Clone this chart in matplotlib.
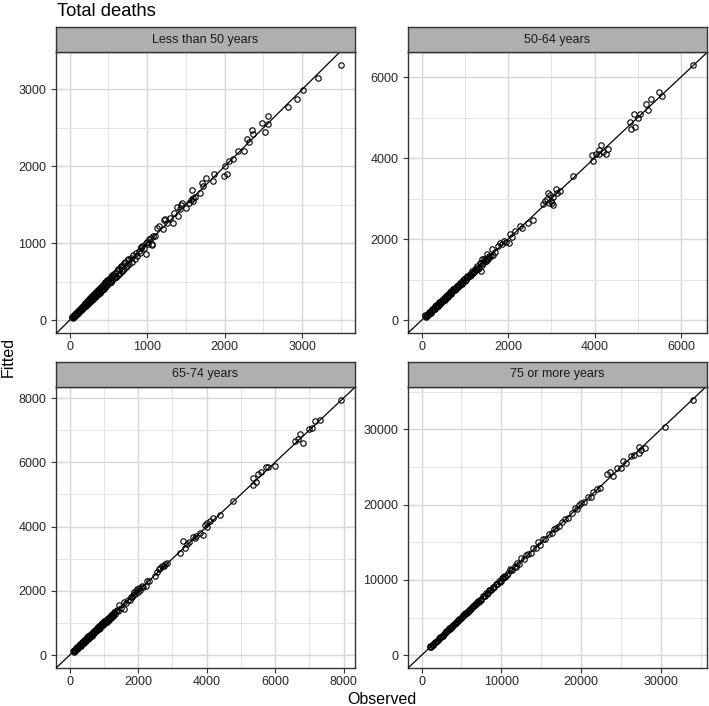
import matplotlib
matplotlib.use("Agg")
import matplotlib.pyplot as plt
from matplotlib.ticker import MultipleLocator

plt.rcParams['font.family'] = ['Liberation Sans', 'DejaVu Sans']

# =============================================================================
# DATA : observed vs fitted deaths, by age group
# =============================================================================

obs_lt50 = [30, 38, 45, 52, 60, 66, 72, 80, 86, 92, 100, 105, 112, 118, 124, 130, 136, 142, 148, 155,
            160, 166, 172, 178, 185, 190, 196, 202, 208, 214, 220, 226, 232, 238, 245, 250, 256, 262, 268, 275,
            280, 286, 292, 298, 305, 310, 318, 324, 330, 336, 342, 348, 355, 362, 368, 375, 382, 390, 398, 405,
            412, 420, 428, 436, 445, 452, 460, 470, 478, 488, 498, 508, 518, 528, 540, 550, 560, 572, 585, 598,
            610, 622, 635, 648, 660, 675, 690, 705, 720, 738, 755, 770, 790, 805, 820, 840, 858, 870, 890, 905,
            917, 925, 940, 960, 980, 989, 1000, 1015, 1030, 1050, 1057, 1066, 1080, 1104,
            1129, 1158, 1204, 1222, 1235, 1250, 1298, 1338, 1342, 1380, 1394, 1420, 1440, 1455, 1502, 1540,
            1565, 1584, 1591, 1596, 1620, 1680, 1711, 1720, 1762, 1846, 1859, 1995, 2000, 2029, 2059, 2113,
            2177, 2253, 2292, 2317, 2348, 2368, 2488, 2517, 2559, 2559, 2818, 2932, 3013, 3200, 3506]
fit_lt50 = [45, 30, 60, 48, 70, 55, 80, 72, 95, 85, 110, 92, 120, 105, 135, 118, 150, 130, 160, 140,
            172, 150, 188, 165, 198, 175, 210, 190, 225, 200, 240, 212, 250, 225, 262, 235, 278, 248, 290, 258,
            300, 270, 315, 280, 330, 292, 345, 300, 355, 318, 372, 330, 385, 340, 398, 355, 410, 368, 425, 380,
            440, 398, 458, 412, 470, 430, 492, 448, 508, 462, 525, 478, 545, 500, 568, 520, 590, 545, 610, 565,
            640, 590, 665, 615, 690, 640, 720, 670, 755, 700, 780, 735, 810, 760, 850, 800, 880, 830, 905, 870,
            958, 940, 960, 935, 1000, 863, 1020, 985, 1060, 1075, 983, 991, 1100, 1098,
            1205, 1230, 1186, 1306, 1312, 1260, 1333, 1270, 1397, 1474, 1355, 1440, 1500, 1526, 1462, 1530,
            1564, 1692, 1590, 1547, 1600, 1650, 1778, 1740, 1842, 1808, 1897, 1872, 2000, 1897, 2069, 2099,
            2196, 2205, 2350, 2311, 2474, 2419, 2560, 2440, 2654, 2547, 2769, 2876, 2996, 3154, 3320]
# extra points of the dense low band
obs_lt50_low = [35, 48, 58, 70, 83, 95, 108, 122, 134, 146, 158, 170, 183, 195, 207, 220, 233, 246, 258, 270,
                283, 296, 309, 322, 335, 348, 361, 374, 387, 400, 414, 428, 442, 456, 470, 485, 500, 516, 532, 548,
                565, 582, 600, 620, 640, 660, 680, 700, 725, 750]
fit_lt50_low = [40, 58, 52, 82, 76, 108, 98, 138, 122, 162, 146, 190, 168, 218, 190, 245, 210, 270, 238, 300,
                258, 325, 285, 352, 312, 378, 340, 405, 360, 432, 390, 462, 410, 490, 440, 520, 465, 550, 495, 585,
                530, 620, 565, 660, 600, 700, 640, 738, 690, 790]

obs_50_64 = [80, 100, 120, 140, 160, 180, 200, 220, 240, 260, 280, 300, 320, 340, 360, 380, 400, 420, 440, 460,
             480, 500, 520, 545, 570, 590, 610, 630, 650, 670, 690, 710, 730, 750, 770, 790, 810, 830, 850, 870,
             890, 910, 930, 960, 990, 1020, 1050, 1080, 1110, 1140, 1174, 1200, 1230, 1260, 1288, 1320, 1363,
             1380, 1402, 1430, 1460, 1490, 1516, 1540, 1570, 1600, 1630, 1650, 1700, 1758, 1820, 1850, 1900,
             1950, 2032, 2048, 2080, 2162, 2277, 2320, 2466, 2580, 2811, 2847, 2922, 2900, 2950, 2980, 3000,
             3050, 3050, 3020, 3114, 3130, 3200, 3509, 3950, 3958, 4027, 4103, 4111, 4141, 4200, 4256, 4315,
             4826, 4845, 4918, 4940, 5000, 5046, 5198, 5244, 5297, 5495, 5564, 6288]
fit_50_64 = [92, 85, 130, 120, 175, 160, 215, 200, 255, 245, 300, 280, 340, 325, 385, 360, 425, 400, 465, 440,
             500, 485, 545, 525, 590, 570, 640, 615, 680, 650, 720, 690, 770, 735, 800, 780, 845, 810, 880, 850,
             920, 890, 960, 940, 1010, 1000, 1070, 1060, 1130, 1120, 1226, 1170, 1260, 1240, 1348, 1300, 1226,
             1420, 1510, 1400, 1480, 1460, 1632, 1520, 1560, 1580, 1754, 1620, 1680, 1835, 1917, 1880, 1950,
             1920, 1917, 2119, 2050, 2200, 2322, 2280, 2387, 2468, 2874, 2931, 3150, 3000, 2880, 3100, 2950,
             3052, 2850, 2900, 3233, 3150, 3180, 3557, 4068, 3922, 4110, 4190, 4100, 4312, 4150, 4110, 4231,
             4896, 4718, 5083, 4758, 5001, 5099, 5342, 5181, 5449, 5634, 5530, 6302]
obs_50_64_low = [90, 130, 170, 210, 250, 290, 330, 370, 410, 450, 490, 530, 570, 610, 650, 690, 730, 770, 810,
                 850, 890, 930, 970, 1010, 1060, 1110, 1160, 1210, 1260, 1310, 1350, 1400, 1450, 1500, 1550]
fit_50_64_low = [120, 110, 200, 185, 280, 265, 365, 345, 450, 420, 525, 500, 610, 580, 690, 660, 770, 740, 850,
                 820, 930, 900, 1010, 980, 1100, 1080, 1200, 1180, 1300, 1270, 1400, 1370, 1500, 1470, 1590]

obs_65_74 = [110, 130, 150, 170, 190, 210, 230, 250, 270, 290, 310, 330, 350, 370, 390, 410, 430, 450, 470, 490,
             510, 530, 550, 570, 590, 610, 630, 650, 670, 690, 710, 730, 750, 770, 790, 810, 830, 850, 870, 890,
             910, 930, 950, 975, 1000, 1025, 1050, 1080, 1110, 1140, 1170, 1200, 1230, 1260, 1290, 1320, 1360,
             1400, 1452, 1500, 1576, 1600, 1650, 1700, 1750, 1787, 1820, 1850, 1885, 1920, 1950, 1980, 2000,
             2030, 2060, 2100, 2150, 2219, 2250, 2317, 2507, 2550, 2605, 2650, 2700, 2750, 2800, 2845, 3228,
             3326, 3374, 3420, 3500, 3614, 3650, 3700, 3805, 3901, 3948, 4000, 4020, 4094, 4190, 4380, 4766,
             5343, 5440, 5343, 5487, 5600, 5726, 5800, 5986, 6591, 6669, 6717, 6801, 7000, 7072, 7167, 7311, 7937]
fit_65_74 = [126, 110, 175, 150, 220, 190, 260, 235, 300, 275, 340, 310, 385, 350, 420, 395, 465, 430, 505, 475,
             545, 510, 585, 550, 625, 590, 665, 630, 710, 670, 750, 710, 790, 750, 835, 790, 875, 830, 915, 870,
             955, 910, 995, 950, 1040, 990, 1090, 1040, 1140, 1100, 1200, 1160, 1260, 1220, 1320, 1280, 1390,
             1370, 1553, 1480, 1451, 1640, 1620, 1720, 1730, 1810, 1800, 1880, 1963, 1900, 2000, 2064, 1980,
             2100, 2040, 2150, 2120, 2166, 2300, 2319, 2472, 2580, 2678, 2700, 2779, 2760, 2830, 2883, 3190,
             3546, 3343, 3450, 3520, 3669, 3640, 3720, 3804, 3752, 4058, 4100, 4000, 4160, 4264, 4365, 4794,
             5509, 5387, 5285, 5644, 5700, 5847, 5850, 5899, 6666, 6718, 6871, 6614, 7025, 7074, 7279, 7331, 7945]
obs_65_74_low = [120, 160, 200, 240, 280, 320, 360, 400, 440, 480, 520, 560, 600, 640, 680, 720, 760, 800, 840,
                 880, 920, 960, 1010, 1060, 1110, 1160, 1210, 1260, 1310, 1380]
fit_65_74_low = [150, 140, 235, 215, 320, 300, 400, 380, 480, 455, 560, 535, 640, 610, 720, 695, 800, 775, 880,
                 850, 960, 935, 1050, 1030, 1150, 1130, 1250, 1230, 1350, 1420]

obs_75p = [1040, 1150, 1300, 1450, 1600, 1750, 1900, 2050, 2200, 2350, 2500, 2650, 2800, 2950, 3100, 3250,
           3400, 3550, 3700, 3850, 4000, 4150, 4300, 4450, 4600, 4750, 4900, 5050, 5200, 5350, 5500, 5650,
           5800, 5950, 6100, 6250, 6400, 6550, 6700, 6850, 7000, 7150, 7300, 7500, 7700, 7900, 8100, 8300,
           8500, 8700, 8900, 9100, 9300, 9500, 9700, 9900, 10100, 10300, 10500, 10800, 11110, 11400, 11700,
           11920, 12200, 12530, 12800, 13140, 13400, 13700, 13950, 14300, 14560, 14800, 15170, 15500, 15980,
           16300, 16590, 16900, 17300, 17600, 18000, 18400, 18820, 19220, 19500, 19800, 20030, 20400, 20850,
           21200, 21450, 22060, 22400, 23280, 23680, 24000, 24500, 25000, 25300, 25700, 26320, 26700, 27240,
           27300, 27500, 28060, 30490, 34100]
fit_75p = [1090, 1120, 1340, 1420, 1650, 1720, 1950, 2020, 2250, 2320, 2560, 2620, 2860, 2920, 3160, 3220,
           3460, 3520, 3760, 3820, 4070, 4120, 4370, 4420, 4670, 4720, 4980, 5020, 5280, 5320, 5580, 5620,
           5880, 5920, 6190, 6220, 6490, 6520, 6790, 6820, 7100, 7120, 7400, 7460, 7820, 7850, 8220, 8250,
           8620, 8650, 9050, 9050, 9450, 9450, 9850, 9850, 10250, 10560, 10450, 10950, 11420, 11380, 11900,
           12270, 12150, 12920, 12750, 13350, 13450, 13650, 14200, 14250, 15060, 14700, 15490, 15450, 16130,
           16200, 16780, 16850, 17200, 17640, 18070, 18300, 18930, 19570, 19400, 19900, 20210, 20300, 21080,
           21000, 21720, 22150, 22200, 24080, 24290, 23800, 24940, 24900, 25790, 25600, 26430, 26600, 27720,
           26870, 27300, 27510, 30290, 33950]
obs_75p_low = [1100, 1400, 1700, 2000, 2300, 2600, 2900, 3200, 3500, 3800, 4100, 4400, 4700, 5000, 5300, 5600,
               5900, 6200, 6500, 6800, 7100, 7400, 7800, 8200, 8600, 9000, 9400, 9800, 10200, 10700, 11200, 11800]
fit_75p_low = [1200, 1380, 1780, 1980, 2380, 2580, 2980, 3180, 3590, 3780, 4190, 4380, 4800, 4980, 5400, 5580,
               6000, 6180, 6600, 6780, 7200, 7380, 7900, 8180, 8700, 8980, 9500, 9780, 10300, 10680, 11300, 11780]

panel_titles = ["Less than 50 years", "50-64 years", "65-74 years", "75 or more years"]
panel_obs = [obs_lt50 + obs_lt50_low, obs_50_64 + obs_50_64_low, obs_65_74 + obs_65_74_low, obs_75p + obs_75p_low]
panel_fit = [fit_lt50 + fit_lt50_low, fit_50_64 + fit_50_64_low, fit_65_74 + fit_65_74_low, fit_75p + fit_75p_low]
tick_steps = [1000, 2000, 2000, 10000]

# =============================================================================
# FIGURE
# =============================================================================

W, H = 709, 706
fig = plt.figure(figsize=(W / 100, H / 100), dpi=100)

# panel boxes in pixels : left, top, right, bottom
boxes = [(56, 52, 355, 333), (408, 52, 707, 333), (56, 387, 355, 668), (408, 387, 707, 668)]
strip_h = 25

for title, obs, fit, step, (x0, y0, x1, y1) in zip(panel_titles, panel_obs, panel_fit, tick_steps, boxes):
    ax = fig.add_axes([x0 / W, 1 - y1 / H, (x1 - x0) / W, (y1 - y0) / H])
    ax.plot(obs, fit, 'o', mfc='none', mec='black', ms=3.9, mew=0.8, zorder=3)
    ax.axline((0, 0), slope=1, color='black', lw=0.9, zorder=4)
    ax.margins(0.05)
    for axis in (ax.xaxis, ax.yaxis):
        axis.set_major_locator(MultipleLocator(step))
        axis.set_minor_locator(MultipleLocator(step / 2))
    ax.grid(which='major', color='#D6D6D6', lw=1.0)
    ax.grid(which='minor', color='#E4E4E4', lw=0.7)
    ax.set_axisbelow(True)
    ax.tick_params(which='minor', length=0)
    ax.tick_params(which='major', length=3.5, width=0.8, color='#333333',
                   labelsize=9, labelcolor='#262626')
    ax.tick_params(axis='y', pad=3.5)
    ax.tick_params(axis='x', pad=2.5)
    for s in ax.spines.values():
        s.set_color('#333333')
        s.set_linewidth(1.0)

    # facet strip
    sax = fig.add_axes([x0 / W, 1 - y0 / H, (x1 - x0) / W, strip_h / H])
    sax.set_facecolor('#AFAFAF')
    sax.set_xticks([])
    sax.set_yticks([])
    for s in sax.spines.values():
        s.set_color('#333333')
        s.set_linewidth(1.0)
    sax.text(0.5, 0.5, title, ha='center', va='center', fontsize=9, color='#1a1a1a',
             transform=sax.transAxes)

fig.text(57 / W, 1 - 16.5 / H, "Total deaths", ha='left', va='baseline', fontsize=13.2)
fig.text(382 / W, 1 - 704 / H, "Observed", ha='center', va='baseline', fontsize=11.5)
fig.text(8 / W, 1 - 357 / H, "Fitted", ha='center', va='center', rotation=90, fontsize=11.5)

fig.savefig("out.png", dpi=100)
